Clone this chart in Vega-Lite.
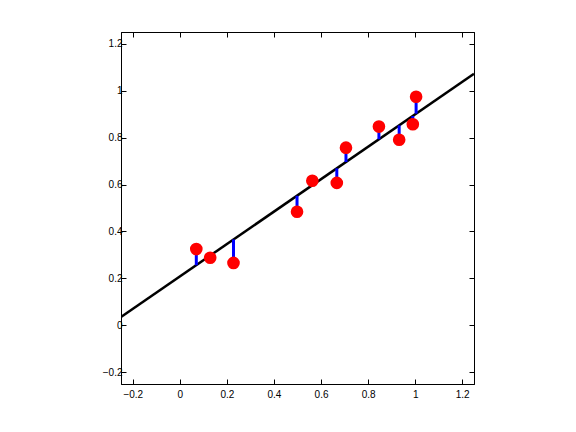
{
  "$schema": "https://vega.github.io/schema/vega-lite/v6.json",
  "width": 353,
  "height": 352,
  "autosize": "none",
  "padding": {"left": 121, "top": 32, "right": 102, "bottom": 48},
  "background": "white",
  "config": {
    "view": {"stroke": "black", "strokeWidth": 1},
    "axis": {
      "grid": false,
      "domain": true,
      "domainColor": "black",
      "domainWidth": 1,
      "tickColor": "black",
      "tickSize": -5,
      "tickWidth": 1,
      "labelFont": "Liberation Sans",
      "labelFontSize": 10,
      "labelColor": "black",
      "title": null,
      "labelFlush": false,
      "labelOverlap": false
    }
  },
  "datasets": {
    "pts": [
      {"x": 0.070, "y": 0.325, "yfit": 0.256},
      {"x": 0.129, "y": 0.288, "yfit": 0.297},
      {"x": 0.228, "y": 0.266, "yfit": 0.366},
      {"x": 0.498, "y": 0.484, "yfit": 0.552},
      {"x": 0.563, "y": 0.616, "yfit": 0.597},
      {"x": 0.667, "y": 0.607, "yfit": 0.669},
      {"x": 0.706, "y": 0.757, "yfit": 0.696},
      {"x": 0.846, "y": 0.847, "yfit": 0.793},
      {"x": 0.932, "y": 0.791, "yfit": 0.852},
      {"x": 0.990, "y": 0.857, "yfit": 0.892},
      {"x": 1.004, "y": 0.974, "yfit": 0.902}
    ],
    "fit": [
      {"x": -0.25, "y": 0.0355},
      {"x": 1.25, "y": 1.072}
    ]
  },
  "layer": [
    {
      "data": {"name": "fit"},
      "mark": {"type": "line", "color": "black", "strokeWidth": 2.5, "clip": true},
      "encoding": {
        "x": {"field": "x", "type": "quantitative", "scale": {"domain": [-0.25, 1.25], "nice": false, "zero": false},
              "axis": {"orient": "bottom", "values": [-0.2, 0, 0.2, 0.4, 0.6, 0.8, 1, 1.2], "labelPadding": 10, "labelExpr": "datum.value == 0 ? '0' : (datum.value == 1 ? '1' : format(datum.value, '.1f'))"}},
        "y": {"field": "y", "type": "quantitative", "scale": {"domain": [-0.25, 1.25], "nice": false, "zero": false},
              "axis": {"orient": "left", "values": [-0.2, 0, 0.2, 0.4, 0.6, 0.8, 1, 1.2], "labelPadding": 4, "labelExpr": "datum.value == 0 ? '0' : (datum.value == 1 ? '1' : format(datum.value, '.1f'))"}}
      }
    },
    {
      "data": {"name": "pts"},
      "mark": {"type": "rule", "color": "#0000ff", "strokeWidth": 3},
      "encoding": {
        "x": {"field": "x", "type": "quantitative",
              "axis": {"orient": "top", "values": [-0.2, 0, 0.2, 0.4, 0.6, 0.8, 1, 1.2], "labels": false}},
        "y": {"field": "y", "type": "quantitative",
              "axis": {"orient": "right", "values": [-0.2, 0, 0.2, 0.4, 0.6, 0.8, 1, 1.2], "labels": false}},
        "y2": {"field": "yfit"}
      }
    },
    {
      "data": {"name": "pts"},
      "mark": {"type": "point", "filled": true, "shape": "circle", "color": "#ff0000", "opacity": 1, "size": 160},
      "encoding": {
        "x": {"field": "x", "type": "quantitative", "axis": null},
        "y": {"field": "y", "type": "quantitative", "axis": null}
      }
    }
  ],
  "resolve": {"axis": {"x": "independent", "y": "independent"}}
}
